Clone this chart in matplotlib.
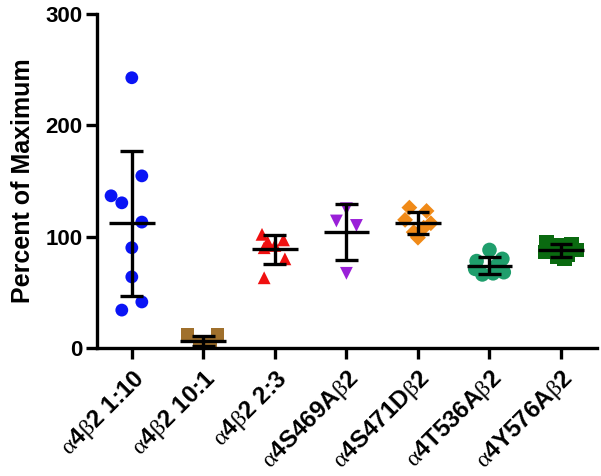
import numpy as np
import matplotlib
matplotlib.use("Agg")
import matplotlib.pyplot as plt

plt.rcParams['font.family'] = ['Liberation Sans', 'DejaVu Sans']
plt.rcParams['mathtext.fontset'] = 'custom'
plt.rcParams['mathtext.rm'] = 'Liberation Serif'
plt.rcParams['mathtext.it'] = 'Liberation Serif'
plt.rcParams['mathtext.bf'] = 'Liberation Serif'

groups = [r"$\alpha$4$\beta$2 1:10", r"$\alpha$4$\beta$2 10:1", r"$\alpha$4$\beta$2 2:3",
          r"$\alpha$4S469A$\beta$2", r"$\alpha$4S471D$\beta$2", r"$\alpha$4T536A$\beta$2",
          r"$\alpha$4Y576A$\beta$2"]

vals_1_10 = [242.6, 154.5, 136.6, 130.3, 113, 90, 63.8, 41.3, 34]
offs_1_10 = [0.0, 0.14, -0.29, -0.14, 0.14, 0.0, 0.0, 0.14, -0.14]
vals_10_1 = [12, 4, 3, 2, 5, 12]
offs_10_1 = [-0.22, -0.05, 0.05, 0.0, 0.1, 0.2]
vals_2_3 = [102, 97, 95, 92, 90, 80, 63]
offs_2_3 = [-0.18, 0.12, -0.1, 0.0, -0.15, 0.14, -0.15]
vals_s469a = [125, 114, 110, 67]
offs_s469a = [0.0, -0.14, 0.14, 0.0]
vals_s471d = [126, 123, 115, 112, 108, 104, 99]
offs_s471d = [-0.12, 0.12, -0.18, 0.18, 0.08, -0.06, 0.0]
vals_t536a = [88, 80, 78, 74, 71, 68, 66, 67]
offs_t536a = [0.0, 0.18, -0.18, 0.1, -0.2, 0.2, -0.1, 0.05]
vals_y576a = [95, 93, 92, 88, 86, 84, 82, 80]
offs_y576a = [-0.2, 0.15, 0.0, 0.22, -0.22, 0.1, -0.05, 0.05]

data = [vals_1_10, vals_10_1, vals_2_3, vals_s469a, vals_s471d, vals_t536a, vals_y576a]
offsets = [offs_1_10, offs_10_1, offs_2_3, offs_s469a, offs_s471d, offs_t536a, offs_y576a]
colors = ['#0a14f5', '#a0702c', '#f01010', '#9a20d8', '#f08a18', '#1f9e6c', '#0a6a10']
markers = ['o', 's', '^', 'v', 'D', 'o', 's']
sizes = [85, 90, 85, 85, 65, 110, 110]

fig = plt.figure(figsize=(6.01, 4.76), dpi=100)
ax = fig.add_axes([0.161, 0.269, 0.832, 0.702])

for i, (v, o) in enumerate(zip(data, offsets)):
    v = np.array(v, dtype=float)
    ax.scatter(i + np.array(o), v, s=sizes[i], marker=markers[i], color=colors[i],
               edgecolors='none', zorder=2)
    m = v.mean()
    sd = v.std(ddof=1)
    ax.plot([i - 0.32, i + 0.32], [m, m], color='black', lw=2.4, zorder=3, solid_capstyle='butt')
    ax.plot([i, i], [m - sd, m + sd], color='black', lw=2.4, zorder=3, solid_capstyle='butt')
    for y in (m - sd, m + sd):
        ax.plot([i - 0.16, i + 0.16], [y, y], color='black', lw=2.4, zorder=3, solid_capstyle='butt')

ax.set_xlim(-0.49, 6.5)
ax.set_ylim(0, 300)
ax.set_yticks([0, 100, 200, 300])
ax.set_xticks(range(len(groups)))
ax.set_xticklabels(groups, rotation=45, ha='right', rotation_mode='anchor',
                   fontsize=17.5, fontweight='bold')
for lab in ax.get_yticklabels():
    lab.set_fontsize(16)
    lab.set_fontweight('bold')
ax.set_ylabel('Percent of Maximum', fontsize=18, fontweight='bold', labelpad=8)

for side in ('top', 'right'):
    ax.spines[side].set_visible(False)
for side in ('left', 'bottom'):
    ax.spines[side].set_linewidth(2.4)
ax.tick_params(axis='both', direction='out', length=8, width=2.4, pad=2)
ax.tick_params(axis='x', pad=5)

fig.savefig('out.png', dpi=100)
